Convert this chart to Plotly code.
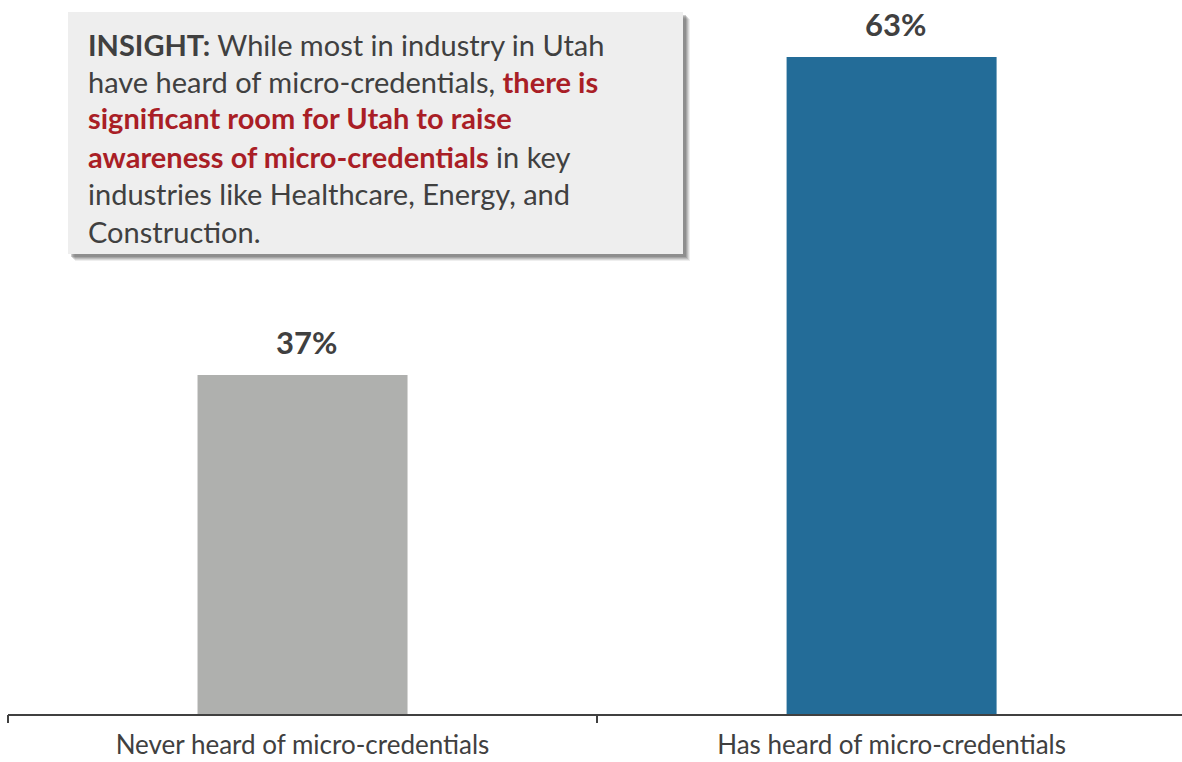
import plotly.graph_objects as go

# Survey result: awareness of micro-credentials among Utah industry respondents
categories = ["Never heard of micro-credentials", "Has heard of micro-credentials"]
shares = [37, 63]
bar_colors = ["#AFB0AE", "#236C98"]

insight_lines = [
    "<b>INSIGHT:</b> While most in industry in Utah",
    "have heard of micro-credentials, <b><span style='color:#A91E26'>there is</span></b>",
    "<b><span style='color:#A91E26'>significant room for Utah to raise</span></b>",
    "<b><span style='color:#A91E26'>awareness of micro-credentials</span></b> in key",
    "industries like Healthcare, Energy, and",
    "Construction.",
]

W, H = 1182, 762
ML, MR, MT, MB = 8, 0, 0, 48
PW, PH = W - ML - MR, H - MT - MB
TEXT = "#404040"
FONT = "Lato"


def px_x(x):
    return (x - ML) / PW


def px_y(y):
    return 1 - (y - MT) / PH


fig = go.Figure()
fig.add_trace(go.Bar(
    x=[0, 1],
    y=shares,
    marker=dict(color=bar_colors, line=dict(width=0)),
    hoverinfo="skip",
))

annotations = []
for i, v in enumerate(shares):
    annotations.append(dict(
        x=i, y=v, xref="x", yref="y", text=f"<b>{v}%</b>",
        showarrow=False, yanchor="bottom", yshift=12, xshift=4,
        font=dict(family=FONT, size=31, color=TEXT),
    ))

# Insight call-out box with a soft drop shadow
box = (68, 12, 683, 254)
shapes = []
for off, op in [(7, 0.10), (6, 0.15), (5, 0.2), (4, 0.25), (3, 0.3)]:
    shapes.append(dict(
        type="rect", xref="paper", yref="paper", layer="above",
        x0=px_x(box[0] + off), x1=px_x(box[2] + off),
        y0=px_y(box[1] + off), y1=px_y(box[3] + off),
        fillcolor=f"rgba(90,90,90,{op})", line=dict(width=0),
    ))
shapes.append(dict(
    type="rect", xref="paper", yref="paper", layer="above",
    x0=px_x(box[0]), x1=px_x(box[2]), y0=px_y(box[1]), y1=px_y(box[3]),
    fillcolor="#EEEEEE", line=dict(width=0),
))

line_centers = [44, 81, 118, 156, 194, 232]
for txt, yc in zip(insight_lines, line_centers):
    annotations.append(dict(
        x=px_x(86), y=px_y(yc), xref="paper", yref="paper",
        text=txt, showarrow=False, xanchor="left", yanchor="middle",
        align="left", font=dict(family=FONT, size=29, color=TEXT),
    ))

fig.update_layout(
    width=W, height=H,
    margin=dict(l=ML, r=MR, t=MT, b=MB, pad=0, autoexpand=False),
    paper_bgcolor="white", plot_bgcolor="white",
    bargap=0.6435,
    showlegend=False,
    shapes=shapes,
    annotations=annotations,
    font=dict(family=FONT, color=TEXT),
    xaxis=dict(
        range=[-0.5, 1.493],
        tickmode="array", tickvals=[0, 1], ticktext=categories,
        showline=True, linecolor=TEXT, linewidth=2,
        ticks="", showgrid=False, zeroline=False, fixedrange=True,
        tickfont=dict(family=FONT, size=26, color=TEXT),
        ticklabelstandoff=7, automargin=False,
    ),
    # boundary tick marks between categories
    xaxis2=dict(
        overlaying="x", matches="x", anchor="y",
        tickmode="array", tickvals=[-0.5, 0.5, 1.5], showticklabels=False,
        ticks="outside", ticklen=8, tickwidth=2, tickcolor=TEXT,
        showline=False, showgrid=False, zeroline=False, fixedrange=True,
        automargin=False,
    ),
    yaxis=dict(
        range=[9.28, 67.66], visible=False, showgrid=False, zeroline=False,
        fixedrange=True, automargin=False,
    ),
)
# invisible trace so the boundary-tick axis is drawn
fig.add_trace(go.Scatter(x=[0], y=[20], xaxis="x2", mode="markers",
                         marker=dict(opacity=0), hoverinfo="skip"))

fig.write_html("out.html", config={"displayModeBar": False})
